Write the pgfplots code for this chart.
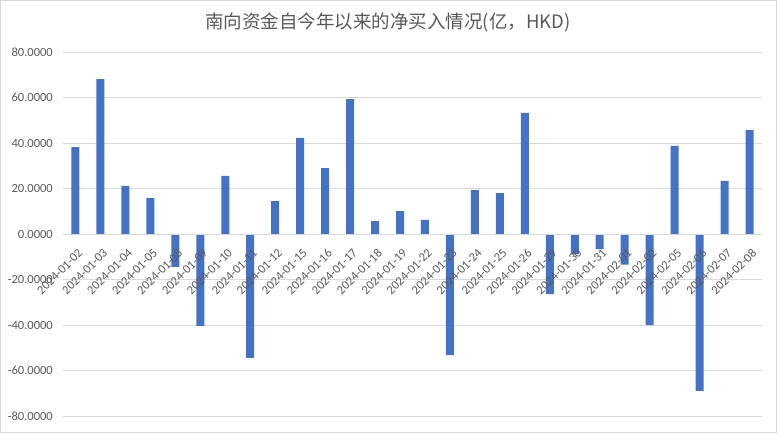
\documentclass[border=0pt]{standalone}
\usepackage{pgfplots}
\pgfplotsset{compat=1.18}
\usepackage{fontspec}
\setmainfont{Carlito}
\newfontfamily\cjk{Noto Sans CJK SC}
\definecolor{barblue}{RGB}{68,114,196}
\definecolor{txtgray}{RGB}{89,89,89}
\definecolor{gridgray}{RGB}{217,217,217}
\begin{document}
\begin{tikzpicture}
\begin{axis}[
  set layers,
  at={(0,0)}, anchor=south west,
  scale only axis,
  width=699bp, height=364bp,
  xmin=-0.5, xmax=27.5, ymin=-80, ymax=80,
  axis x line=middle, axis y line=left,
  x axis line style={draw=gridgray,-},
  y axis line style={draw=none},
  ytick={-80,-60,-40,-20,0,20,40,60,80},
  ymajorgrids, grid style={gridgray, line width=0.75bp},
  major tick length=0pt,
  xtick=data,
  xticklabels={2024-01-02,2024-01-03,2024-01-04,2024-01-05,2024-01-08,2024-01-09,2024-01-10,2024-01-11,2024-01-12,2024-01-15,2024-01-16,2024-01-17,2024-01-18,2024-01-19,2024-01-22,2024-01-23,2024-01-24,2024-01-25,2024-01-26,2024-01-29,2024-01-30,2024-01-31,2024-02-01,2024-02-02,2024-02-05,2024-02-06,2024-02-07,2024-02-08},
  xticklabel style={xshift=5bp, yshift=-17bp, rotate=45, anchor=east, font=\fontsize{12.5bp}{14bp}\selectfont, text=txtgray, inner sep=0bp},
  yticklabel style={font=\fontsize{12.5bp}{14bp}\selectfont, text=txtgray, inner sep=0pt, xshift=-10bp},
  /pgf/number format/assume math mode=true,
  /pgf/number format/.cd, fixed, fixed zerofill, precision=4, 1000 sep={},
  /pgfplots/.cd,
  clip=false,
]
\addplot[on layer=axis ticks, ybar, bar width=8bp, fill=barblue, draw=none] coordinates {
(0,38.2) (1,68.1) (2,21.1) (3,15.8) (4,-14.4) (5,-40.4) (6,25.5) (7,-54.5)
(8,14.5) (9,42.2) (10,29.0) (11,59.3) (12,5.7) (13,10.1) (14,6.2) (15,-53.2)
(16,19.3) (17,18.0) (18,53.2) (19,-26.4) (20,-8.8) (21,-6.6) (22,-13.5) (23,-40.0)
(24,38.7) (25,-69.0) (26,23.3) (27,45.7)
};
\end{axis}
\draw[gridgray,line width=1bp] (-62.5bp,-16.5bp) rectangle (713.5bp,415.5bp);
\node[text=txtgray, font=\cjk\fontsize{18.5bp}{22bp}\selectfont] at (325bp,394bp) {南向资金自今年以来的净买入情况(亿，HKD)};
\end{tikzpicture}
\end{document}
